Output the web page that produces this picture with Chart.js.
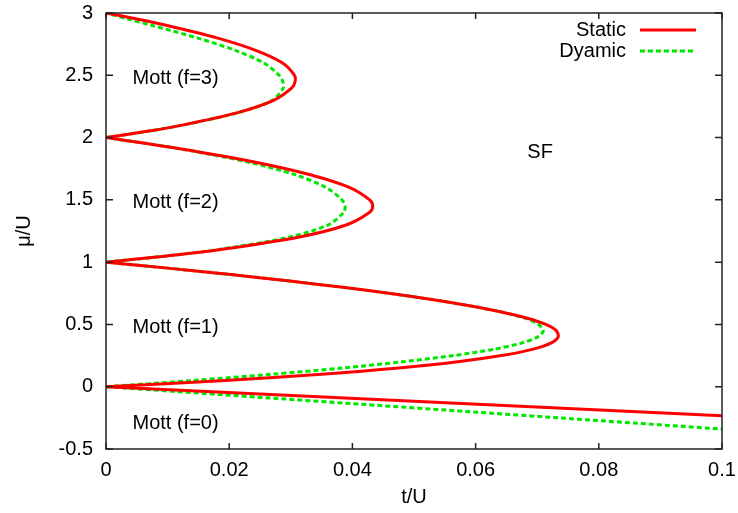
<!DOCTYPE html>
<html>
<head>
<meta charset="utf-8">
<script src="https://cdn.jsdelivr.net/npm/chart.js@4/dist/chart.umd.min.js"></script>
<style>
  body { margin: 0; background: #fff; }
  #wrap { width: 738px; height: 513px; }
</style>
</head>
<body>
<div id="wrap"><canvas id="c"></canvas></div>
<script>
// phase diagram, mu/U against t/U

const xTickLabels = ['0', '0.02', '0.04', '0.06', '0.08', '0.1'];
const yTickLabels = ['-0.5', '0', '0.5', '1', '1.5', '2', '2.5', '3'];

// f=0 boundary (straight line)
const tLobe0 = [0, 0.1];
const staticMu0 = [0, -0.2335];
const dynamicMu0 = [0, -0.34];

// f=1 lobe
const muLobe1 = [0, 0.05, 0.1, 0.15, 0.2, 0.25, 0.3, 0.35, 0.4, 0.45, 0.5, 0.55, 0.6, 0.65, 0.7, 0.75, 0.8, 0.85, 0.9, 0.95, 1];
const staticT1 = [0, 0.0194, 0.0350, 0.0475, 0.0571, 0.0642, 0.0692, 0.0722, 0.0734, 0.0731, 0.0714, 0.0684, 0.0642, 0.0590, 0.0529, 0.0459, 0.0381, 0.0295, 0.0203, 0.0104, 0];
const dynamicT1 = [0, 0.0141, 0.0269, 0.0384, 0.0481, 0.0564, 0.0629, 0.0674, 0.0701, 0.0710, 0.0702, 0.0680, 0.0642, 0.0590, 0.0529, 0.0459, 0.0381, 0.0295, 0.0203, 0.0104, 0];

// f=2 lobe
const muLobe2 = [1, 1.05, 1.1, 1.2, 1.3, 1.4, 1.45, 1.5, 1.6, 1.7, 1.8, 1.9, 1.95, 2];
const staticT2 = [0, 0.0099, 0.0184, 0.0312, 0.0391, 0.0428, 0.0433, 0.0428, 0.0395, 0.0333, 0.0245, 0.0133, 0.0069, 0];
const dynamicT2 = [0, 0.0099, 0.0181, 0.0297, 0.0361, 0.0386, 0.0388, 0.0383, 0.0357, 0.0308, 0.0234, 0.0131, 0.0069, 0];

// f=3 lobe
const muLobe3 = [2, 2.05, 2.1, 2.2, 2.3, 2.4, 2.45, 2.5, 2.6, 2.7, 2.8, 2.9, 2.95, 3];
const staticT3 = [0, 0.0067, 0.0124, 0.0214, 0.0273, 0.0302, 0.0307, 0.0306, 0.0286, 0.0243, 0.0180, 0.0099, 0.0052, 0];
const dynamicT3 = [0, 0.0067, 0.0124, 0.0214, 0.0270, 0.0288, 0.0287, 0.0281, 0.0256, 0.0210, 0.0148, 0.0075, 0.0037, 0];

const seriesNames = ['Static', 'Dyamic'];
const phaseLabels = ['Mott (f=3)', 'Mott (f=2)', 'Mott (f=1)', 'Mott (f=0)', 'SF'];

const FONT = '"Liberation Sans", Arial, Helvetica, sans-serif';
const RED = 'rgb(255, 0, 0)';
const GREEN = 'rgb(0, 230, 0)';

function pts(ts, mus) {
    return ts.map((t, i) => ({x: t, y: mus[i]}));
}

function lineSet(data, isStatic) {
    return {
        data: data,
        showLine: true,
        pointRadius: 0,
        borderWidth: 3,
        borderColor: isStatic ? RED : GREEN,
        borderDash: isStatic ? [] : [5, 3],
        tension: 0.3,
        fill: false
    };
}

const datasets = [
    lineSet(pts(tLobe0, staticMu0), true),
    lineSet(pts(staticT1, muLobe1), true),
    lineSet(pts(staticT2, muLobe2), true),
    lineSet(pts(staticT3, muLobe3), true),
    lineSet(pts(tLobe0, dynamicMu0), false),
    lineSet(pts(dynamicT1, muLobe1), false),
    lineSet(pts(dynamicT2, muLobe2), false),
    lineSet(pts(dynamicT3, muLobe3), false)
];

// gnuplot style frame, inward ticks, key and labels
const gnuFrame = {
    id: 'gnuFrame',
    afterDatasetsDraw(chart) {
        const {ctx, chartArea: a, scales: {x, y}} = chart;
        ctx.save();
        ctx.strokeStyle = '#222';
        ctx.lineWidth = 1.5;
        ctx.strokeRect(a.left, a.top, a.width, a.height);
        ctx.beginPath();
        x.ticks.forEach(t => {
            const px = x.getPixelForValue(t.value);
            ctx.moveTo(px, a.bottom); ctx.lineTo(px, a.bottom - 6);
            ctx.moveTo(px, a.top); ctx.lineTo(px, a.top + 6);
        });
        y.ticks.forEach(t => {
            const py = y.getPixelForValue(t.value);
            ctx.moveTo(a.left, py); ctx.lineTo(a.left + 7, py);
            ctx.moveTo(a.right, py); ctx.lineTo(a.right - 7, py);
        });
        ctx.stroke();

        // phase labels
        ctx.fillStyle = '#000';
        ctx.font = '20px ' + FONT;
        ctx.textAlign = 'left';
        ctx.textBaseline = 'middle';
        const lx = x.getPixelForValue(0.0043);
        [2.5, 1.5, 0.5, -0.27].forEach((m, i) => {
            ctx.fillText(phaseLabels[i], lx, y.getPixelForValue(m) + 3);
        });
        ctx.fillText(phaseLabels[4], x.getPixelForValue(0.0684), y.getPixelForValue(1.88));

        // key
        ctx.textAlign = 'right';
        const kx = a.right - 96;
        [0, 1].forEach(i => {
            const ky = a.top + 17 + i * 21;
            ctx.fillText(seriesNames[i], kx, ky);
            ctx.beginPath();
            ctx.lineWidth = 3;
            ctx.strokeStyle = i === 0 ? RED : GREEN;
            ctx.setLineDash(i === 0 ? [] : [5, 3]);
            ctx.moveTo(kx + 14, ky);
            ctx.lineTo(kx + 70, ky);
            ctx.stroke();
        });
        ctx.restore();
    }
};

new Chart(document.getElementById('c'), {
    type: 'scatter',
    data: {datasets: datasets},
    options: {
        responsive: true,
        maintainAspectRatio: false,
        animation: false,
        layout: {padding: {left: 0, top: 13, right: 16, bottom: 0}},
        plugins: {
            legend: {display: false},
            tooltip: {enabled: false}
        },
        scales: {
            x: {
                type: 'linear',
                min: 0,
                max: 0.1,
                afterFit: s => {
                    s.height = 64;
                    s.paddingLeft = 0;
                    s.paddingRight = 0;
                },
                grid: {display: false, drawTicks: false},
                border: {display: false},
                ticks: {
                    stepSize: 0.02,
                    padding: 9,
                    color: '#000',
                    font: {family: FONT, size: 20},
                    maxRotation: 0,
                    callback: (v, i) => xTickLabels[i]
                },
                title: {
                    display: true,
                    text: 't/U',
                    color: '#000',
                    font: {family: FONT, size: 20},
                    padding: {top: 0, bottom: 4}
                }
            },
            y: {
                type: 'linear',
                min: -0.5,
                max: 3,
                afterFit: s => {
                    s.width = 106;
                    s.paddingTop = 0;
                    s.paddingBottom = 0;
                },
                grid: {display: false, drawTicks: false},
                border: {display: false},
                ticks: {
                    stepSize: 0.5,
                    padding: 13,
                    color: '#000',
                    font: {family: FONT, size: 20},
                    callback: (v, i) => yTickLabels[i]
                },
                title: {
                    display: true,
                    text: 'μ/U',
                    color: '#000',
                    font: {family: FONT, size: 20},
                    padding: {top: 12, bottom: 0}
                }
            }
        }
    },
    plugins: [gnuFrame]
});
</script>
</body>
</html>
